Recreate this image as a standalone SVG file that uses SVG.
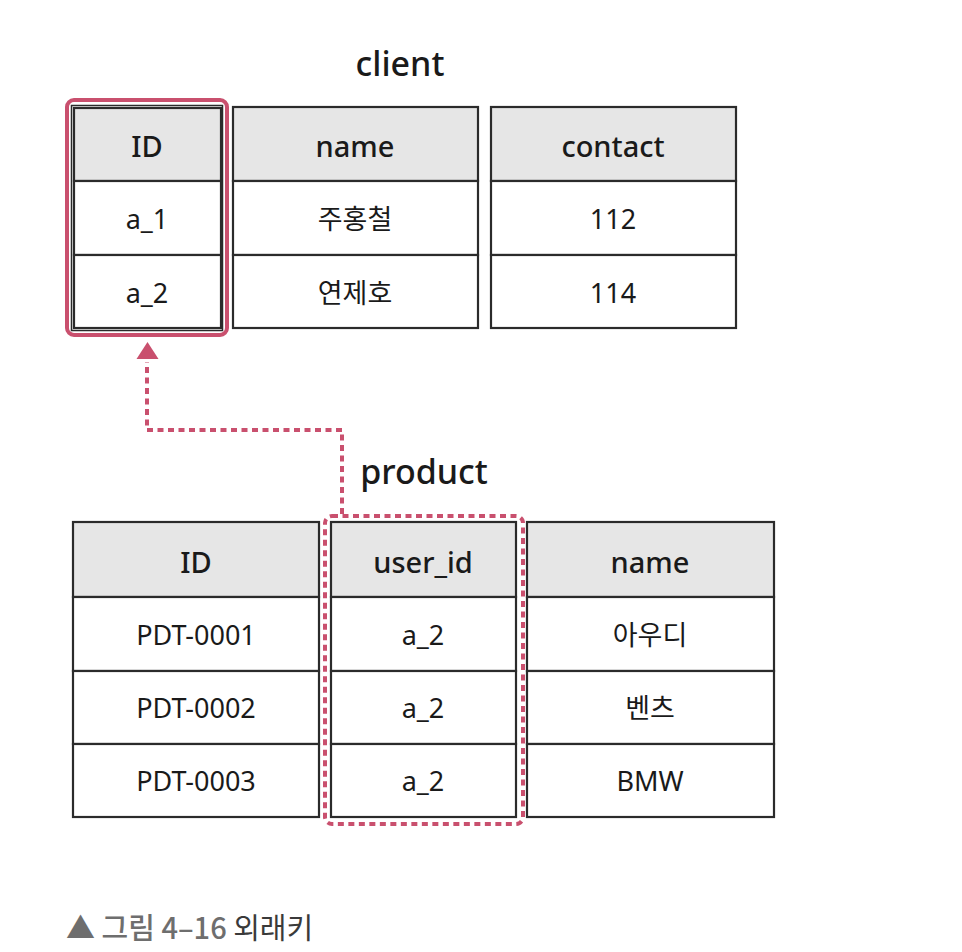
<svg xmlns="http://www.w3.org/2000/svg" width="962" height="952" viewBox="0 0 962 952">
<style>
.bg{fill:#ffffff}
.cell{fill:#ffffff;stroke:#2b2b2b;stroke-width:2.2}
.head{fill:#e6e6e6;stroke:#2b2b2b;stroke-width:2.2}
.t{font-family:"Noto Sans","Noto Sans CJK KR",sans-serif;font-size:27px;fill:#1a1a1a;text-anchor:middle;dominant-baseline:central}
.th{font-family:"Noto Sans","Noto Sans CJK KR",sans-serif;font-size:29px;fill:#1a1a1a;text-anchor:middle;dominant-baseline:central;font-weight:500}
.title{font-family:"Noto Sans","Noto Sans CJK KR",sans-serif;font-size:34px;fill:#1a1a1a;text-anchor:middle;font-weight:500}
.hl{fill:none;stroke:#c9506e;stroke-width:4}
.dash{fill:none;stroke:#c9506e;stroke-width:4;stroke-dasharray:6 4.5}
.cap{font-family:"Noto Sans CJK KR","Noto Sans",sans-serif;font-size:29px}
</style>
<rect class="bg" x="0" y="0" width="962" height="952"/>

<text class="title" x="400" y="76">client</text>

<g id="client-id">
<rect class="hl" x="67" y="100" width="160" height="235" rx="7"/>
<rect x="71.5" y="105.5" width="151" height="225" fill="none" stroke="#2b2b2b" stroke-width="1.5"/>
<rect class="head" x="74" y="108" width="147" height="73"/>
<rect class="cell" x="74" y="181" width="147" height="74"/>
<rect class="cell" x="74" y="255" width="147" height="73"/>
<text class="th" x="147" y="145">ID</text>
<text class="t" x="147" y="218">a_1</text>
<text class="t" x="147" y="292">a_2</text>
</g>

<g id="client-name">
<rect class="head" x="233" y="107" width="245" height="74"/>
<rect class="cell" x="233" y="181" width="245" height="74"/>
<rect class="cell" x="233" y="255" width="245" height="73"/>
<text class="th" x="355" y="145">name</text>
<text class="t" x="355" y="218">주홍철</text>
<text class="t" x="355" y="292">연제호</text>
</g>

<g id="client-contact">
<rect class="head" x="491" y="107" width="245" height="74"/>
<rect class="cell" x="491" y="181" width="245" height="74"/>
<rect class="cell" x="491" y="255" width="245" height="73"/>
<text class="th" x="613" y="145">contact</text>
<text class="t" x="613" y="218">112</text>
<text class="t" x="613" y="292">114</text>
</g>

<text class="title" x="424" y="484">product</text>

<g id="product-id">
<rect class="head" x="73" y="522" width="246" height="75"/>
<rect class="cell" x="73" y="597" width="246" height="74"/>
<rect class="cell" x="73" y="671" width="246" height="73"/>
<rect class="cell" x="73" y="744" width="246" height="73"/>
<text class="th" x="196" y="561">ID</text>
<text class="t" x="196" y="634">PDT-0001</text>
<text class="t" x="196" y="707">PDT-0002</text>
<text class="t" x="196" y="780">PDT-0003</text>
</g>

<g id="product-user-id">
<rect class="dash" x="325" y="516" width="198" height="308" rx="7"/>
<rect class="head" x="331" y="522" width="185" height="75"/>
<rect class="cell" x="331" y="597" width="185" height="74"/>
<rect class="cell" x="331" y="671" width="185" height="73"/>
<rect class="cell" x="331" y="744" width="185" height="73"/>
<text class="th" x="423" y="561">user_id</text>
<text class="t" x="423" y="634">a_2</text>
<text class="t" x="423" y="707">a_2</text>
<text class="t" x="423" y="780">a_2</text>
</g>

<g id="product-name">
<rect class="head" x="527" y="522" width="247" height="75"/>
<rect class="cell" x="527" y="597" width="247" height="74"/>
<rect class="cell" x="527" y="671" width="247" height="73"/>
<rect class="cell" x="527" y="744" width="247" height="73"/>
<text class="th" x="650" y="561">name</text>
<text class="t" x="650" y="634">아우디</text>
<text class="t" x="650" y="707">벤츠</text>
<text class="t" x="650" y="780">BMW</text>
</g>

<g id="connectors">
<path class="dash" d="M342,514 L342,430 L147,430 L147,362"/>
<path d="M136.5,359 L147.5,342 L158.5,359 Z" fill="#c9506e"/>
</g>

<g id="caption">
<text class="cap" x="66" y="939"><tspan fill="#6e6e6e" font-weight="500">▲ 그림 4–16</tspan><tspan fill="#3a3a3a"> 외래키</tspan></text>
</g>
</svg>
